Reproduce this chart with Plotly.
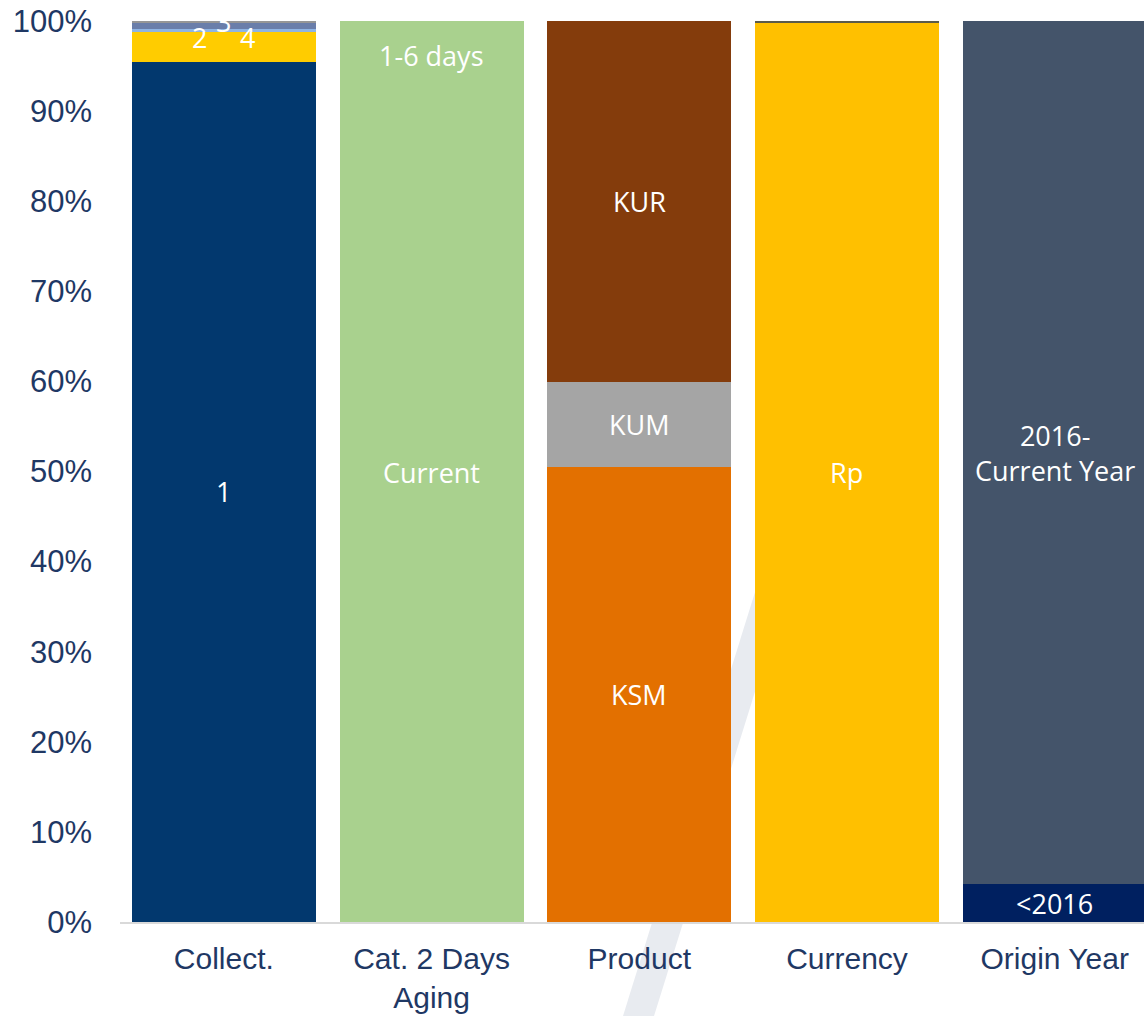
import plotly.graph_objects as go

# Categories on the x axis
categories = ["Collect.", "Cat. 2 Days<br>Aging", "Product", "Currency", "Origin Year"]

# Segment shares (%) for each stacked bar, bottom to top
collect_labels = ["1", "2", "3", "4", "5"]
collect_values = [95.5, 3.35, 0.22, 0.66, 0.27]

aging_labels = ["Current", "1-6 days"]
aging_values = [99.75, 0.25]

product_labels = ["KSM", "KUM", "KUR"]
product_values = [50.5, 9.4, 40.1]

currency_labels = ["Rp", "Other"]
currency_values = [99.85, 0.15]

origin_labels = ["<2016", "2016-<br>Current Year"]
origin_values = [4.2, 95.8]

tick_vals = [0, 10, 20, 30, 40, 50, 60, 70, 80, 90, 100]
tick_text = ["0%", "10%", "20%", "30%", "40%", "50%", "60%", "70%", "80%", "90%", "100%"]

# Styling
colors = {
    "1": "#02386e", "2": "#ffcc00", "3": "#8eb4e3", "4": "#6a7eaa", "5": "#969696",
    "Current": "#a9d18e", "1-6 days": "#a9d18e",
    "KSM": "#e37000", "KUM": "#a5a5a5", "KUR": "#843c0c",
    "Rp": "#ffc000", "Other": "#5b5b4b",
    "<2016": "#002060", "2016-<br>Current Year": "#44546a",
}
hidden_labels = {"5", "Other"}
# labels that Excel placed away from the segment centre
label_override = {"2": (-0.116, 98.2), "3": (0.0, 100.0), "4": (0.116, 98.2), "1-6 days": (0.0, 96.2)}

groups = [
    (categories[0], collect_labels, collect_values),
    (categories[1], aging_labels, aging_values),
    (categories[2], product_labels, product_values),
    (categories[3], currency_labels, currency_values),
    (categories[4], origin_labels, origin_values),
]

fig = go.Figure()
annotations = []
for ci, (cat, labels, values) in enumerate(groups):
    base = 0
    for lab, val in zip(labels, values):
        fig.add_trace(go.Bar(
            x=[cat], y=[val], name=lab,
            marker=dict(color=colors[lab], line=dict(width=0)),
            showlegend=False,
        ))
        if lab not in hidden_labels:
            if lab in label_override:
                dx, yy = label_override[lab]
            else:
                dx, yy = 0.0, base + val / 2
            annotations.append(dict(
                x=ci + dx, y=yy, xref="x", yref="y", text=lab, showarrow=False,
                font=dict(family="Open Sans", size=27, color="white"),
                xanchor="center", yanchor="middle",
            ))
        base += val

# Light diagonal watermark slash behind the bars
L, T, W, H = 120, 21, 1024, 901
def px(x, y):
    return (x - L) / W, (T + H - y) / H
pts = [px(623, 1016), px(654, 1016), px(796, 560), px(765, 560)]
path = "M " + " L ".join(f"{a:.4f},{b:.4f}" for a, b in pts) + " Z"

fig.update_layout(
    width=1144, height=1016,
    margin=dict(l=L, r=0, t=T, b=1016 - T - H),
    barmode="stack", bargap=0.114,
    plot_bgcolor="white", paper_bgcolor="white",
    annotations=annotations,
    shapes=[dict(type="path", path=path, xref="paper", yref="paper",
                 fillcolor="#e8ebf0", line=dict(width=0), layer="below")],
    xaxis=dict(
        range=[-0.5, 4.43], showgrid=False, showline=True, linecolor="#d9d9d9", linewidth=2,
        tickfont=dict(family="Liberation Sans, Arial", size=30, color="#1f3864"),
        ticks="", ticklabelstandoff=9, automargin=False,
    ),
    yaxis=dict(
        range=[0, 100], showgrid=False, showline=False, zeroline=False,
        tickvals=tick_vals, ticktext=tick_text,
        tickfont=dict(family="Liberation Sans, Arial", size=31, color="#1f3864"),
        ticks="", ticklabelstandoff=27, automargin=False,
    ),
)

fig.write_html(
    "out.html",
    config={"displayModeBar": False},
    post_script="document.body.style.margin='0';document.body.style.overflow='hidden';",
)
